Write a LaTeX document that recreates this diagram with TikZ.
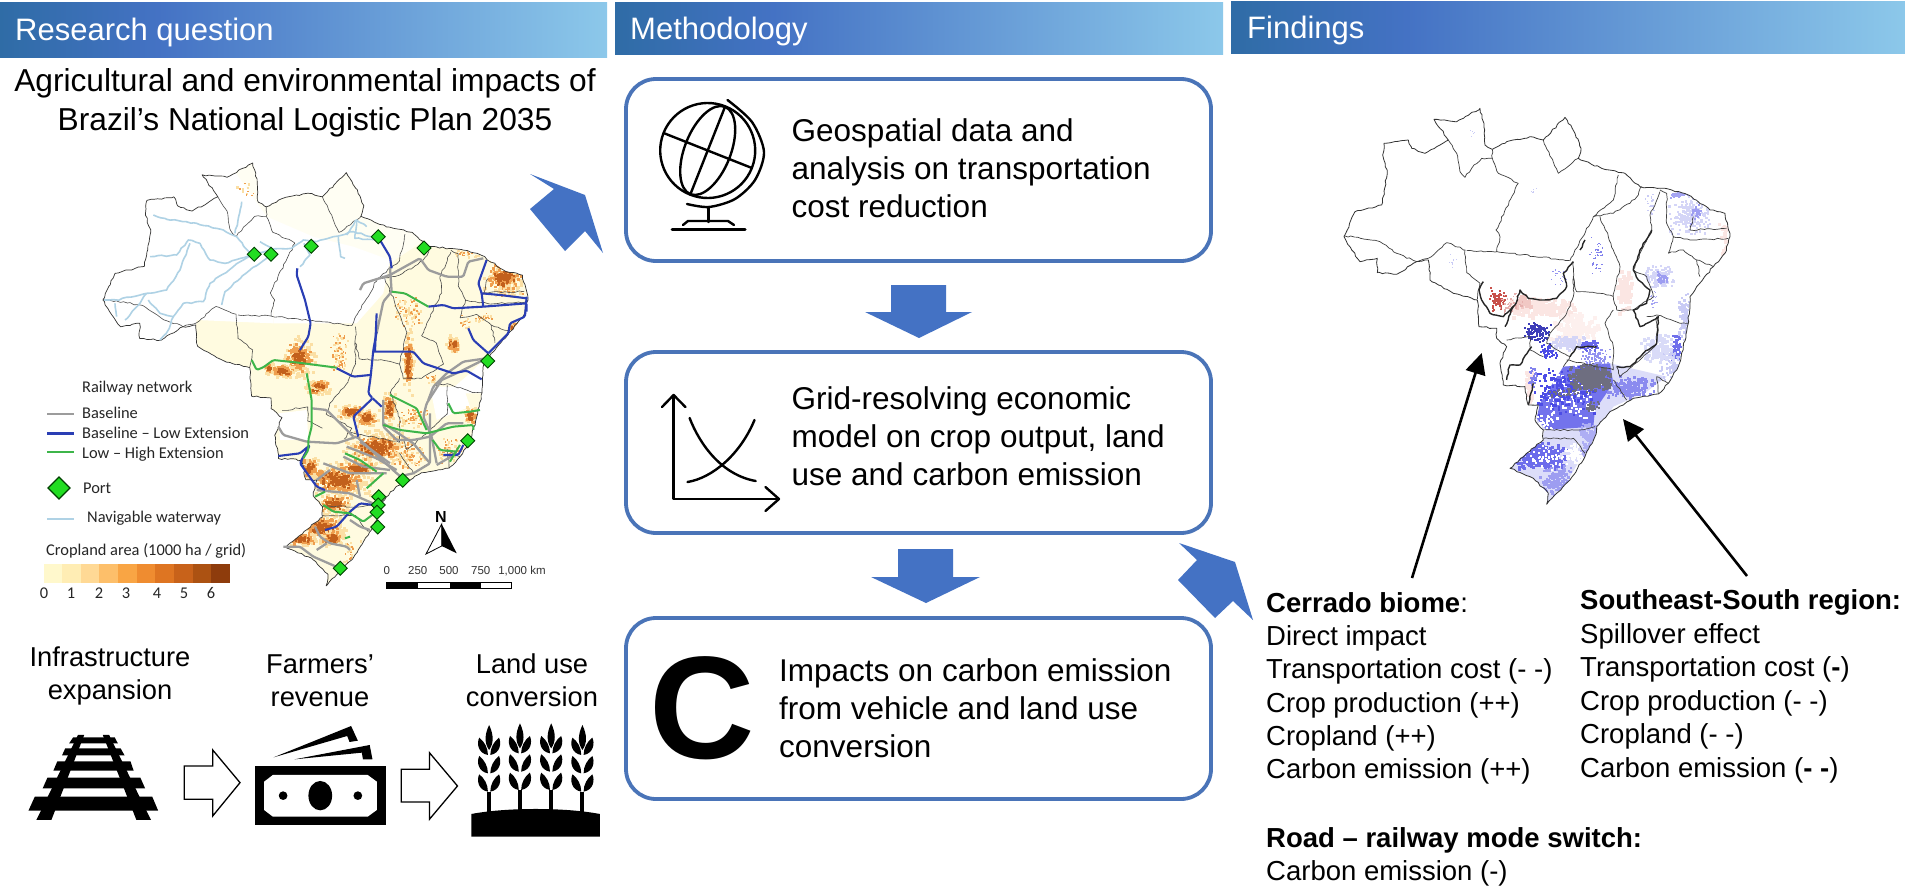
\documentclass[tikz,border=0pt]{standalone}
\usepackage{fontspec}
\setmainfont{Liberation Sans}
\newfontfamily\legendfont{Carlito}
\usetikzlibrary{arrows.meta,decorations.pathmorphing}
\definecolor{hA}{HTML}{2F6CA6}
\definecolor{hB}{HTML}{4472C4}
\definecolor{hC}{HTML}{8CC8EA}
\definecolor{flowblue}{HTML}{4472C4}
\definecolor{boxblue}{HTML}{4A74B8}
\definecolor{railgray}{HTML}{9C9C9C}
\definecolor{railblue}{HTML}{2A3EB4}
\definecolor{railgreen}{HTML}{3DB54A}
\definecolor{waterblue}{HTML}{AFD2E5}
\definecolor{portgreen}{HTML}{22DD22}
\definecolor{paleland}{HTML}{FFFBE0}
\definecolor{faintland}{HTML}{FFFEF3}
\definecolor{cropL}{HTML}{FBDFA4}
\definecolor{cropM}{HTML}{EF9E4E}
\definecolor{cropD}{HTML}{C2601C}
\definecolor{impB}{HTML}{4C4CE6}
\definecolor{impL}{HTML}{C9CBF5}
\definecolor{impG}{HTML}{6E6E80}
\definecolor{impR}{HTML}{C8504A}
\definecolor{impP}{HTML}{FBE6E3}
\pgfdeclarehorizontalshading{headshade}{100bp}{color(0bp)=(hA);color(25bp)=(hA);color(38bp)=(hB);color(75bp)=(hC);color(100bp)=(hC)}
\tikzset{
  header/.style={shading=headshade,draw=none},
  headtext/.style={anchor=base west,inner sep=0pt,text=white,font=\fontsize{31}{37}\selectfont},
  flowbox/.style={draw=boxblue,line width=3.8pt,rounded corners=30pt,fill=white},
  bodytext/.style={anchor=north west,inner sep=0pt,align=left,font=\fontsize{31.5}{38}\selectfont},
  findtext/.style={anchor=base west,inner sep=0pt,font=\fontsize{27.5}{33.4}\selectfont},
  icontext/.style={anchor=base,inner sep=0pt,align=center,font=\fontsize{27.3}{33}\selectfont},
  flowarrow/.style={fill=flowblue},
  outlinearrow/.style={draw=black,line width=1.3pt,fill=white,line join=miter},
  legendtext/.style={anchor=base west,inner sep=0pt,font=\legendfont\fontsize{16.4}{20}\selectfont,text=black!85},
  scaletext/.style={anchor=base,inner sep=0pt,font=\fontsize{11.5}{14}\selectfont,text=black!80},
  port/.style={fill=portgreen,draw=black!75!green,line width=0.9pt},
  grayrail/.style={draw=railgray,line width=2.3pt,line join=round,rounded corners=1.5pt},
  bluerail/.style={draw=railblue,line width=2.1pt,line join=round,rounded corners=1.5pt},
  greenrail/.style={draw=railgreen,line width=2pt,line join=round,rounded corners=1.5pt},
  waterway/.style={draw=waterblue,line width=1.6pt,line join=round,decorate,decoration={random steps,segment length=4pt,amplitude=0.7pt}},
  iconline/.style={draw=black,line width=2.4pt,line cap=round,line join=round},
  pointer/.style={draw=black,line width=2.6pt,-{Triangle[length=21pt,width=20pt]}},
  border/.style={line join=round,decorate,decoration={random steps,segment length=3.5pt,amplitude=0.8pt}},
  leftmap/.style={shift={(32.5,143.4)},xscale=0.367,yscale=0.356},
  rightmap/.style={shift={(1280,90)},xscale=0.3333,yscale=0.3333},
  northzoom/.style={shift={(100,160)},xscale=0.3333,yscale=0.3333},
  southzoom/.style={shift={(250,330)},xscale=0.3333,yscale=0.3333},
}
\def\brazil{(312,160)--(385,150)--(395,175)--(435,190)--(480,165)--(505,150)--(462,88)--(530,95)--(600,55)--(612,100)--(615,165)--(637,178)--(680,155)--(750,140)--(790,150)--(855,82)--(885,130)--(903,175)--(895,205)--(965,235)--(1035,250)--(1080,290)--(1140,295)--(1175,300)--(1225,315)--(1290,360)--(1335,370)--(1350,440)--(1335,490)--(1300,530)--(1250,590)--(1230,620)--(1225,700)--(1210,770)--(1195,830)--(1165,880)--(1135,912)--(1060,925)--(1030,945)--(990,965)--(950,1010)--(945,1040)--(915,1100)--(870,1170)--(830,1210)--(800,1243)--(805,1210)--(760,1165)--(690,1135)--(740,1090)--(790,1050)--(790,1020)--(765,990)--(775,945)--(745,945)--(735,890)--(670,885)--(660,820)--(680,770)--(650,745)--(650,715)--(597,710)--(592,630)--(520,610)--(450,570)--(445,510)--(410,515)--(350,553)--(292,548)--(292,505)--(240,515)--(215,480)--(192,440)--(225,365)--(305,345)--(322,250)--(308,195)--cycle}
\def\states{(192,437)--(300,455)--(350,490)--(410,515)
 (410,515)--(445,505)--(500,458)--(555,480)--(560,548)--(600,580)--(592,628)
 (560,482)--(650,485)--(870,512)
 (650,485)--(660,440)--(648,420)--(715,280)
 (505,150)--(530,190)--(540,245)--(555,262)--(575,235)--(605,205)--(637,205)
 (637,178)--(637,205)--(655,250)--(715,280)
 (790,150)--(835,250)--(895,205)
 (870,512)--(885,480)--(905,445)--(940,380)--(1000,330)--(1015,255)
 (940,380)--(1000,370)--(1050,340)--(1075,315)--(1085,290)
 (960,380)--(985,440)--(1000,480)--(1020,530)--(1000,620)--(960,610)--(890,605)--(880,560)
 (1000,620)--(1010,660)--(1060,660)--(1120,620)--(1100,560)--(1060,540)--(1085,480)--(1115,420)--(1110,375)--(1140,305)
 (1140,300)--(1160,310)--(1160,400)--(1180,440)--(1165,490)
 (1165,490)--(1210,480)--(1250,510)--(1300,530)
 (1180,440)--(1240,450)--(1345,445)
 (1240,380)--(1230,420)--(1340,415)
 (1250,510)--(1260,560)
 (1000,660)--(975,700)--(1000,770)--(1000,840)
 (880,515)--(880,620)--(860,670)--(810,730)--(800,760)--(870,800)--(850,830)
 (680,750)--(750,740)--(750,780)--(790,800)
 (1100,680)--(1130,675)--(1200,700)--(1225,700)
 (1130,680)--(1130,760)--(1080,810)--(1020,860)--(1010,830)
 (1165,880)--(1130,860)--(1135,912)
 (860,810)--(1000,840)
 (1000,870)--(1040,930)
 (790,1020)--(900,1020)--(945,1010)
 (790,1045)--(880,1045)--(915,1090)}
\def\biome{(880,515)--(850,550)--(860,590)--(830,625)--(790,630)--(745,625)--(720,600)--(705,645)--(670,680)--(630,670)--(605,630)--(597,600)--(610,575)
 (675,710)--(700,650)
 (680,870)--(690,825)--(720,825)--(755,770)
 (760,880)--(745,945)
 (1010,830)--(1050,830)--(1090,790)--(1130,760)--(1135,680)--(1080,710)--(1060,660)--(1100,640)--(1110,600)--(1075,570)--(1060,540)--(1080,480)--(1115,420)
 (870,800)--(890,770)--(950,770)
 (900,480)--(915,450)}
\newcommand\scat[7]{\foreach \i in {1,...,#5}{%
  \pgfmathsetmacro\sa{(rand+rand)*0.72*#3+#1}%
  \pgfmathsetmacro\sb{(rand+rand)*0.72*#4+#2}%
  \fill[#7] (\sa,\sb) rectangle ++(#6,#6);}}
% x y rx ry n  : cropland patch
\newcommand\cropblob[5]{%
  \pgfmathtruncatemacro\nb{#5*2}%
  \pgfmathsetmacro\rxb{#3*1.1}\pgfmathsetmacro\ryb{#4*1.1}%
  \pgfmathsetmacro\rxc{#3*0.75}\pgfmathsetmacro\ryc{#4*0.75}%
  \pgfmathsetmacro\rxd{#3*0.5}\pgfmathsetmacro\ryd{#4*0.5}%
  \scat{#1}{#2}{\rxb}{\ryb}{\nb}{9}{cropL}%
  \scat{#1}{#2}{\rxc}{\ryc}{\nb}{8}{cropM}%
  \scat{#1}{#2}{\rxd}{\ryd}{#5}{7}{cropD}}
\newcommand\lightcrop[5]{\scat{#1}{#2}{#3}{#4}{#5}{7}{cropL}\scat{#1}{#2}{#3}{#4}{#5}{5}{cropM}}
\newcommand\wheathead{%
  \fill (0,-225) .. controls (12,-195) and (12,-170) .. (0,-150) .. controls (-12,-170) and (-12,-195) .. (0,-225)--cycle;
  \foreach \yb in {-135,-80,-25}{%
    \fill (-3,\yb) .. controls (-28,\yb-5) and (-32,\yb-35) .. (-25,\yb-52) .. controls (-12,\yb-40) and (-3,\yb-22) .. (-3,\yb)--cycle;
    \fill (3,\yb) .. controls (28,\yb-5) and (32,\yb-35) .. (25,\yb-52) .. controls (12,\yb-40) and (3,\yb-22) .. (3,\yb)--cycle;}
  \fill (-5,-25) rectangle (5,40);}
\begin{document}
\begin{tikzpicture}[x=1pt,y=-1pt]
\useasboundingbox (0,0) rectangle (1905,886);
\fill[white] (0,0) rectangle (1905,886);
\pgfmathsetseed{4711}
% headers
\shade[header] (0,2) rectangle (607,57);
\shade[header] (615,2) rectangle (1223,54);
\shade[header] (1231,1) rectangle (1905,53);
\node[headtext] (hq) at (15,40) {Research question};
\node[headtext] (hm) at (630,39) {Methodology};
\node[headtext] (hf) at (1247,38) {Findings};
% title
\node[anchor=base,inner sep=0pt,font=\fontsize{31.7}{39}\selectfont] (title1) at (305,91) {Agricultural and environmental impacts of};
\node[anchor=base,inner sep=0pt,font=\fontsize{31.7}{39}\selectfont] (title2) at (305,130) {Brazil’s National Logistic Plan 2035};
% ---------- left map
\begin{scope}
  \clip[leftmap] \brazil;
  \fill[leftmap,paleland] (100,0) rectangle (1400,1300);
  \begin{scope}[northzoom]
    \fill[faintland] (380,0)--(960,0)--(960,250)--(870,310)--(640,240)--(500,180)--cycle;
    \fill[white] (0,0)--(380,0)--(500,170)--(640,230)--(590,250)--(520,400)--(520,490)--(290,480)--(280,560)--(0,600)--cycle;
    \fill[white] (520,240)--(640,230)--(760,260)--(870,300)--(850,400)--(770,490)--(520,490)--cycle;
    \fill[white] (1110,640)--(1150,600)--(1150,700)--(1040,700)--cycle;
    \cropblob{595}{590}{34}{42}{60}
    \cropblob{545}{630}{28}{14}{30}
    \cropblob{503}{622}{9}{12}{10}
    \cropblob{650}{682}{26}{14}{22}
    \lightcrop{715}{575}{20}{42}{40}
    \cropblob{1210}{350}{50}{38}{60}
    \lightcrop{1230}{400}{40}{15}{15}
    \cropblob{1055}{550}{14}{20}{22}
    \cropblob{922}{605}{11}{70}{45}
    \lightcrop{920}{455}{32}{35}{40}
    \lightcrop{1150}{470}{25}{10}{12}
    \lightcrop{1095}{480}{15}{15}{8}
    \cropblob{1240}{505}{12}{18}{15}
    \lightcrop{430}{85}{25}{20}{6}
    \lightcrop{1100}{280}{35}{8}{10}
  \end{scope}
  \begin{scope}[southzoom]
    \fill[white] (85,250)--(170,240)--(175,330)--(90,330)--cycle;
    \fill[white] (540,170)--(640,170)--(660,230)--(560,270)--cycle;
    \cropblob{375}{350}{65}{38}{100}
    \lightcrop{470}{375}{45}{30}{50}
    \cropblob{300}{242}{32}{15}{30}
    \cropblob{348}{262}{24}{20}{28}
    \cropblob{262}{445}{70}{35}{110}
    \cropblob{320}{412}{50}{15}{40}
    \cropblob{175}{410}{20}{25}{28}
    \cropblob{205}{165}{24}{14}{20}
    \cropblob{215}{590}{45}{30}{70}
    \cropblob{245}{622}{30}{18}{30}
    \cropblob{150}{625}{38}{13}{30}
    \cropblob{250}{518}{40}{24}{40}
    \cropblob{660}{255}{14}{20}{16}
    \cropblob{415}{232}{15}{35}{22}
    \lightcrop{600}{360}{40}{28}{35}
    \lightcrop{490}{262}{35}{25}{30}
    \cropblob{610}{42}{10}{15}{14}
    \lightcrop{545}{145}{15}{10}{8}
    \lightcrop{300}{680}{30}{40}{20}
  \end{scope}
\end{scope}
\draw[leftmap,black!70,line width=0.6pt,border] \states;
\draw[leftmap,black!80,line width=0.7pt,border] \brazil;
\begin{scope}[northzoom]
  \draw[waterway] (160,165)--(200,178)--(290,190)--(370,210)--(410,230)--(455,285)--(510,268)--(575,265)--(610,240)--(650,245)--(700,230)--(760,215)--(830,235);
  \draw[waterway] (425,125)--(405,220);
  \draw[waterway] (480,245)--(520,270);
  \draw[waterway] (150,290)--(230,285)--(265,240)--(300,250)--(330,300)--(375,310)--(450,285);
  \draw[waterway] (270,250)--(240,330)--(200,390)--(140,400)--(50,420)--(12,420);
  \draw[waterway] (140,400)--(120,430)--(75,480);
  \draw[waterway] (45,430)--(50,470);
  \draw[waterway] (145,420)--(180,460)--(220,470)--(250,430)--(310,425)--(330,370)--(400,320)--(455,285);
  \draw[waterway] (365,435)--(375,395)--(450,330)--(510,285);
  \draw[waterway] (220,470)--(205,510)--(180,540);
  \draw[waterway] (612,250)--(630,285)--(600,320);
  \draw[waterway] (715,230)--(722,290)--(735,295);
  \draw[waterway] (770,180)--(765,235)--(830,240);
  \draw[waterway] (740,225)--(770,180)--(800,200);
  \draw[grayrail] (780,390)--(790,370)--(870,345)--(960,295)--(985,330)--(1040,350)--(1090,350)--(1105,305)--(1150,295);
  \draw[grayrail] (870,320)--(875,395)--(850,425)--(830,520);
  \draw[grayrail] (1160,595)--(1090,605)--(1040,640)--(1000,680)--(985,720);
  \draw[bluerail] (835,232)--(870,290)--(875,325);
  \draw[bluerail] (592,325)--(590,345)--(615,420)--(632,490)--(625,530)--(600,570);
  \draw[bluerail] (1160,300)--(1135,370)--(1145,400)--(1150,440);
  \draw[bluerail] (1145,400)--(1200,405)--(1280,415);
  \draw[bluerail] (985,440)--(1030,435)--(1060,445)--(1150,440)--(1280,430)--(1280,455);
  \draw[bluerail] (1280,410)--(1275,470)--(1230,490)--(1225,520)--(1165,580);
  \draw[bluerail] (1105,505)--(1120,540)--(1165,580);
  \draw[bluerail] (830,460)--(825,575);
  \draw[greenrail] (875,395)--(915,400)--(985,440);
\end{scope}
\begin{scope}[southzoom]
  \draw[grayrail] (85,290)--(100,315)--(170,335)--(260,340)--(320,320)--(440,430)--(460,445);
  \draw[grayrail] (185,235)--(230,240)--(310,320);
  \draw[grayrail] (400,210)--(400,290)--(440,330)--(490,330)--(540,320)--(590,280)--(640,280);
  \draw[grayrail] (400,280)--(490,340)--(540,400);
  \draw[grayrail] (540,250)--(540,330)--(540,400)--(490,430)--(445,440);
  \draw[grayrail] (575,150)--(530,220)--(520,260)--(545,320)--(560,400);
  \draw[grayrail] (700,90)--(630,125)--(575,150);
  \draw[grayrail] (620,370)--(560,405);
  \draw[grayrail] (290,350)--(380,385)--(440,420);
  \draw[grayrail] (330,335)--(420,400);
  \draw[grayrail] (220,400)--(300,430)--(410,430);
  \draw[grayrail] (200,480)--(300,490)--(380,525);
  \draw[grayrail] (320,450)--(330,500);
  \draw[grayrail] (195,590)--(210,620)--(240,640)--(290,650)--(300,660);
  \draw[grayrail] (100,650)--(150,650)--(190,680)--(270,715);
  \draw[grayrail] (200,660)--(230,640);
  \draw[grayrail] (300,570)--(330,590)--(360,600);
  \draw[grayrail] (240,420)--(200,450);
  \draw[grayrail] (280,380)--(340,410)--(420,420);
  \draw[bluerail] (380,5)--(370,60)--(362,140)--(355,190)--(368,205)--(310,260)--(325,320);
  \draw[bluerail] (368,205)--(395,230);
  \draw[bluerail] (260,115)--(310,140)--(360,135);
  \draw[bluerail] (370,65)--(490,65)--(520,100)--(610,130)--(650,122)--(695,148);
  \draw[bluerail] (85,378)--(150,370)--(180,345)--(160,380)--(150,400)--(200,470)--(225,480);
  \draw[bluerail] (580,375)--(625,375)--(640,345);
  \draw[bluerail] (225,600)--(260,590)--(300,545)--(330,520)--(370,525);
  \draw[greenrail] (5,90)--(20,120)--(40,112)--(70,90)--(145,98)--(260,113);
  \draw[greenrail] (170,130)--(185,210)--(185,290)--(175,330)--(175,360)--(160,385);
  \draw[greenrail] (285,370)--(330,390)--(380,425);
  \draw[greenrail] (420,195)--(500,235)--(530,300);
  \draw[greenrail] (400,285)--(450,300)--(530,310)--(610,290)--(670,285)--(670,300);
  \draw[greenrail] (595,220)--(610,250)--(660,245)--(690,240);
  \draw[greenrail] (630,345)--(600,395);
  \draw[greenrail] (548,330)--(570,360)--(620,365);
  \draw[greenrail] (350,475)--(400,430);
  \draw[greenrail] (195,500)--(225,485);
  \draw[greenrail] (220,525)--(250,545)--(300,550)--(340,575)--(380,545);
  \draw[greenrail] (285,625)--(300,620);
\end{scope}
\foreach \px/\py in {254.3/254.3,271/254.3,311.3/246.3,378.3/236.7,424/248,487.7/361,467.7/440.7,402.7/480.3,378.7/496.7,378.3/505,377/512.3,377.7/527,340.3/568.3}{
  \draw[port] (\px-7,\py)--(\px,\py-7)--(\px+7,\py)--(\px,\py+7)--cycle;}
% legend
\node[legendtext] (lg0) at (82,392) {Railway network};
\coordinate (l1a) at (47,414); \coordinate (l1b) at (74,414);
\coordinate (l2a) at (47,433.5); \coordinate (l2b) at (74,433.5);
\coordinate (l3a) at (47,452); \coordinate (l3b) at (74,452);
\coordinate (l4a) at (47,519); \coordinate (l4b) at (74,519);
\draw[draw=railgray,line width=2.2pt] (l1a)--(l1b);
\draw[draw=railblue,line width=2.2pt] (l2a)--(l2b);
\draw[draw=railgreen,line width=2.2pt] (l3a)--(l3b);
\draw[draw=waterblue,line width=1.5pt] (l4a)--(l4b);
\node[legendtext] (lg1) at (82,418) {Baseline};
\node[legendtext] (lg2) at (82,438) {Baseline – Low Extension};
\node[legendtext] (lg3) at (82,458) {Low – High Extension};
\draw[port,line width=1.2pt] (48,488)--(59,477)--(70,488)--(59,499)--cycle;
\node[legendtext] (lg4) at (83,493) {Port};
\node[legendtext] (lg5) at (87,522) {Navigable waterway};
\node[legendtext] (lg6) at (46,555) {Cropland area (1000 ha / grid)};
\foreach \i/\c in {0/FFF8CC,1/FFEDB4,2/FFD995,3/FDBF6A,4/F9A544,5/EF8C30,6/DE7522,7/C8621A,8/AC5212,9/8E3C0C}{
  \definecolor{barc}{HTML}{\c}
  \fill[barc] ({43.5+\i*18.65},564) rectangle ({43.5+(\i+1)*18.65+0.3},582.5);}
\foreach \n/\x/\t in {a/44/0,b/71/1,c/99/2,d/126/3,e/157/4,f/184/5,g/211/6}{
  \node[legendtext,anchor=base] (bar\n) at (\x,598) {\t};}
% scale and north
\node[scaletext] (s0) at (386.7,574) {0};
\node[scaletext] (s1) at (417.7,574) {250};
\node[scaletext] (s2) at (449,574) {500};
\node[scaletext] (s3) at (480.7,574) {750};
\node[scaletext] (s4) at (522,574) {1,000 km};
\draw[black,line width=0.7pt,fill=white] (386.7,582.5) rectangle (511.7,588.5);
\fill[black] (386.7,582.5) rectangle (418,588.5);
\fill[black] (449.5,582.5) rectangle (481,588.5);
\node[anchor=base,inner sep=0pt,font=\bfseries\fontsize{16}{18}\selectfont] (north) at (441,522.5) {N};
\draw[black,line width=0.8pt,fill=white] (441.7,524)--(426,554)--(441.7,546)--cycle;
\fill[black] (441.7,524)--(456.7,553.3)--(441.7,546)--cycle;
% big flow arrows
\fill[flowarrow] (530,174)--(585,195)--(603,253)--(585,231)--(565,251)--(530,209)--(554,189)--cycle;
\fill[flowarrow] (1179,543)--(1235,562)--(1253,620)--(1233,601)--(1215,618)--(1178,580)--(1197,560)--cycle;
\fill[flowarrow] (891,285)--(946,285)--(946,312)--(972,312)--(919,338)--(865,312)--(891,312)--cycle;
\fill[flowarrow] (898,549)--(953,549)--(953,577)--(980,577)--(926,603)--(871,577)--(898,577)--cycle;
% boxes
\draw[flowbox] (626,79) rectangle (1211,261);
\draw[flowbox] (626,352) rectangle (1211,533);
\draw[flowbox] (626,618) rectangle (1211,799);
\node[bodytext] (b1) at (791.5,118) {Geospatial data and\\analysis on transportation\\cost reduction};
\node[bodytext] (b2) at (791.5,386) {Grid-resolving economic\\model on crop output, land\\use and carbon emission};
\node[bodytext] (b3) at (779,658) {Impacts on carbon emission\\from vehicle and land use\\conversion};
\node[anchor=base,inner sep=0pt,font=\bfseries\fontsize{146}{146}\selectfont] (bigc) at (702.5,758) {C};
% globe
\begin{scope}[shift={(707.7,150.5)},rotate=-21.6]
  \draw[iconline] (0,0) circle[radius=47.5];
  \draw[iconline] (0,0) ellipse[x radius=23,y radius=47];
  \draw[iconline] (0,-47)--(0,47);
  \draw[iconline] (-47,0)--(47,0);
\end{scope}
\draw[iconline] plot[smooth] coordinates {(727.5,100) (752,122) (764,152) (755,180) (735,199) (709,207) (687,204)};
\draw[iconline] (708.6,207)--(708.6,222);
\draw[iconline,line width=3pt] (672,229)--(745,229);
\draw[iconline] (683,225)--(688,221)--(728,221)--(734,225);
% graph
\draw[iconline,line cap=butt] (673.6,395)--(673.6,499)--(779,499);
\draw[iconline] (662,407)--(673.6,395)--(685.4,407);
\draw[iconline] (765.4,487)--(779,499)--(765.4,511);
\draw[iconline] (689.6,418) .. controls (700,445) and (722,475) .. (755.7,481);
\draw[iconline] (687.5,482) .. controls (712,478) and (740,455) .. (754.5,420);
% lower-left labels
\node[icontext] (i1) at (110,666) {Infrastructure};
\node[icontext] (i1b) at (110,699) {expansion};
\node[icontext] (i2) at (320,673) {Farmers’};
\node[icontext] (i2b) at (320,706) {revenue};
\node[icontext] (i3) at (532,673) {Land use};
\node[icontext] (i3b) at (532,706) {conversion};
% lower-left icons
\begin{scope}[shift={(0,600)},xscale=0.3954,yscale=0.3333]
  \fill (197,405)--(213,405)--(130,660)--(92,660)--cycle;
  \fill (260,405)--(276,405)--(382,660)--(345,660)--cycle;
  \fill (185,412)--(290,412)--(298,430)--(175,430)--cycle;
  \fill (165,445)--(305,445)--(315,466)--(157,466)--cycle;
  \fill (145,484)--(330,484)--(338,512)--(135,512)--cycle;
  \fill (120,533)--(355,533)--(367,565)--(108,565)--cycle;
  \fill (88,590)--(385,590)--(400,632)--(72,632)--cycle;
  \draw[outlinearrow] (466,498)--(538,498)--(538,450)--(607,548)--(538,648)--(538,598)--(466,598)--cycle;
  \draw[outlinearrow] (1015,508)--(1086,508)--(1086,458)--(1157,558)--(1086,658)--(1086,606)--(1015,606)--cycle;
  \fill (645,497) rectangle (977,676);
  \fill[white] (690,525)--(930,525)--(953,545)--(953,630)--(930,650)--(690,650)--(668,630)--(668,545)--cycle;
  \fill (810,587) ellipse[x radius=30,y radius=44];
  \fill (716,587) ellipse[x radius=11,y radius=13];
  \fill (905,587) ellipse[x radius=11,y radius=13];
  \fill (692,472)--(888,378)--(905,422)--(884,426)--(878,408)--cycle;
  \fill (745,478)--(935,435)--(942,478)--(918,478)--(915,458)--cycle;
  \fill (1192,710)--(1192,642) .. controls (1280,622) and (1430,622) .. (1517,642)--(1517,710)--cycle;
  \foreach \wx/\wy in {1237/600,1315/595,1394/595,1473/600}{
    \begin{scope}[shift={(\wx,\wy)}]\wheathead\end{scope}}
\end{scope}
% ---------- right map
\begin{scope}
  \clip[rightmap] \brazil;
  \begin{scope}[rightmap]
    \scat{1030}{600}{16}{50}{70}{12}{impP}
    \scat{780}{650}{75}{22}{170}{12}{impP}
    \scat{725}{635}{18}{18}{40}{10}{impP!80!impR}
    \scat{1330}{440}{12}{40}{30}{10}{impP}
    \scat{745}{890}{10}{38}{40}{10}{impP}
    \scat{880}{710}{55}{35}{130}{12}{impP!60}
    \scat{650}{625}{18}{25}{70}{6}{impR}
    \scat{690}{640}{28}{25}{40}{5}{impR!45}
    \scat{860}{755}{40}{16}{90}{9}{impL!80}
    % south-east block
    \fill[impL!65] (770,1000)--(780,940)--(850,830)--(990,820)--(1160,860)--(1100,905)--(1000,950)--(945,1040)--(900,1110)--(840,1210)--(800,1240)--(760,1170)--(690,1135)--(790,1040)--cycle;
    \fill[impB!78] (770,985)--(780,940)--(850,830)--(990,820)--(1000,880)--(945,960)--(940,1010)--(800,1020)--cycle;
    \scat{860}{915}{75}{70}{120}{7}{white}
    \scat{850}{900}{70}{55}{170}{8}{impB}
    \scat{790}{1000}{25}{20}{35}{6}{white}
    % south
    \scat{775}{1095}{58}{30}{330}{9}{impB!82}
    \scat{830}{1170}{38}{36}{170}{7}{impB!55}
    \scat{800}{1100}{50}{30}{60}{6}{white}
    \scat{880}{1090}{20}{25}{60}{7}{white}
    \scat{925}{1040}{22}{42}{140}{8}{impB!45}
    \scat{1050}{890}{60}{24}{170}{8}{impB!65}
    % gray core
    \scat{925}{858}{50}{28}{300}{9}{impG}
    \scat{865}{905}{45}{10}{35}{6}{impG}
    \scat{935}{945}{18}{12}{30}{6}{impG}
    % mid and east
    \scat{925}{765}{22}{12}{70}{6}{impB!85}
    \scat{950}{800}{35}{20}{80}{5}{impB!60}
    \scat{770}{725}{28}{24}{120}{6}{impB!80!black}
    \scat{800}{780}{22}{20}{45}{6}{impB}
    \scat{755}{860}{12}{24}{35}{6}{impB!70}
    \scat{1185}{770}{12}{30}{55}{7}{impB!80}
    \scat{1180}{830}{32}{38}{110}{7}{impL}
    \scat{1130}{770}{38}{32}{140}{9}{impL!70}
    \scat{1210}{680}{14}{60}{90}{8}{impL}
    \scat{1135}{558}{32}{25}{120}{7}{impL!80}
    \scat{1140}{562}{13}{13}{40}{6}{impB!55}
    \scat{1225}{375}{50}{45}{170}{7}{impL!80}
    \scat{1245}{370}{12}{25}{30}{6}{impB!55}
    \scat{1200}{310}{22}{8}{35}{6}{impB!50}
    \scat{950}{500}{18}{45}{40}{4}{impB!70}
    \scat{835}{555}{18}{25}{30}{3}{impB!60}
    \scat{1120}{620}{12}{25}{20}{4}{impB!50}
    \scat{1110}{340}{12}{25}{20}{5}{impL}
    \scat{515}{510}{15}{15}{8}{4}{impL}
    \scat{580}{125}{14}{10}{6}{3}{impL}
    \scat{760}{300}{10}{8}{6}{3}{impL}
  \end{scope}
\end{scope}
\draw[rightmap,black!75,line width=0.7pt,border] \states;
\draw[rightmap,black!85,line width=1.4pt,border] \biome;
\draw[rightmap,black!80,line width=0.8pt,border] \brazil;
% findings text
\node[findtext] (c0) at (1266,612) {\textbf{Cerrado biome}:};
\node[findtext] (c1) at (1266,645) {Direct impact};
\node[findtext] (c2) at (1266,678) {Transportation cost (- -)};
\node[findtext] (c3) at (1266,712) {Crop production (++)};
\node[findtext] (c4) at (1266,745) {Cropland (++)};
\node[findtext] (c5) at (1266,778) {Carbon emission (++)};
\node[findtext] (s0b) at (1580,609) {\textbf{Southeast-South region:}};
\node[findtext] (s1b) at (1580,643) {Spillover effect};
\node[findtext] (s2b) at (1580,676) {Transportation cost (\textbf{-})};
\node[findtext] (s3b) at (1580,710) {Crop production (- -)};
\node[findtext] (s4b) at (1580,743) {Cropland (- -)};
\node[findtext] (s5b) at (1580,777) {Carbon emission (\textbf{- -})};
\node[findtext] (r0) at (1266,847) {\textbf{Road – railway mode switch:}};
\node[findtext] (r1) at (1266,880) {Carbon emission (-)};
\coordinate (t1) at (1412,578); \coordinate (h1) at (1481.7,353);
\coordinate (t2) at (1747,576); \coordinate (h2) at (1623,419);
\draw[pointer] (t1)--(h1);
\draw[pointer] (t2)--(h2);
\end{tikzpicture}
\end{document}
